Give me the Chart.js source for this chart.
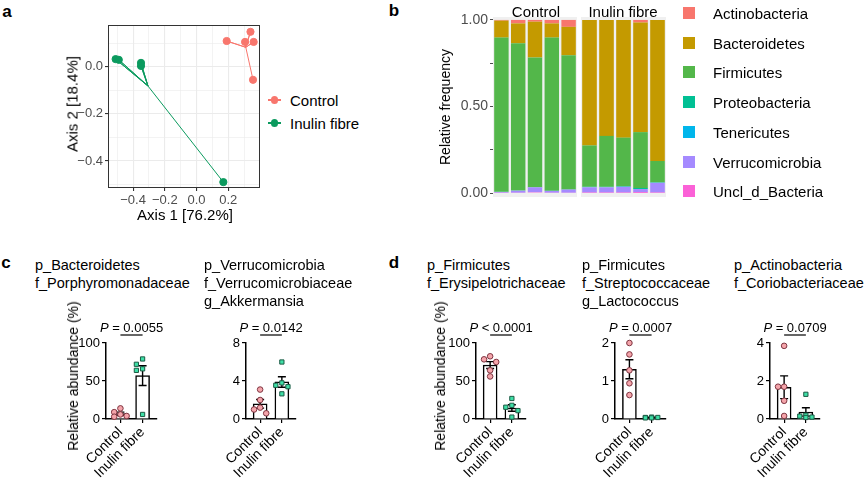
<!DOCTYPE html>
<html>
<head>
<meta charset="utf-8">
<script src="https://cdn.jsdelivr.net/npm/chart.js@4.4.1/dist/chart.umd.min.js"></script>
<style>
  body { margin:0; background:#fff; width:868px; height:485px; position:relative; overflow:hidden;
         font-family:"Liberation Sans", Arial, sans-serif; color:#000; }
  .abs { position:absolute; white-space:nowrap; line-height:1; }
  canvas { position:absolute; }
</style>
</head>
<body>
<script>
"use strict"
const FONT = '"Liberation Sans", Arial, sans-serif';
Chart.defaults.font.family = FONT;
Chart.defaults.animation = false;

// ---- panel a : PCoA coordinates
const pcoaCtrlX = [0.19, 0.306, 0.34, 0.36, 0.356];
const pcoaCtrlY = [0.11, 0.106, 0.149, 0.106, -0.055];
const pcoaInuX = [-0.51, -0.49, -0.35, -0.35, 0.169];
const pcoaInuY = [0.033, 0.03, 0.017, 0.004, -0.49];
const aXTicks = [-0.5, -0.4, -0.3, -0.2, -0.1, 0, 0.1, 0.2, 0.3];
const aYTicks = [0.1, 0, -0.1, -0.2, -0.3, -0.4, -0.5];
const aXLabeled = [-0.4, -0.2, 0, 0.2];
const aYLabeled = [0, -0.2, -0.4];

// ---- panel b : relative frequency per mouse (5 control, 5 inulin)
const ctrlSamples = ['C1', 'C2', 'C3', 'C4', 'C5'];
const inuSamples = ['I1', 'I2', 'I3', 'I4', 'I5'];
const phyla = ['Actinobacteria', 'Bacteroidetes', 'Firmicutes', 'Proteobacteria', 'Tenericutes', 'Verrucomicrobia', 'Uncl_d_Bacteria'];
const phylaColors = ['#F8766D', '#C49A00', '#53B74A', '#00C094', '#00B6EB', '#A58AFF', '#FB61D7'];
const actino  = [0.004, 0.02, 0.01, 0.02, 0.04,   0, 0, 0, 0.015, 0];
const bactero = [0.098, 0.115, 0.207, 0.082, 0.164,   0.725, 0.67, 0.68, 0.633, 0.815];
const firmic  = [0.891, 0.851, 0.749, 0.885, 0.775,   0.239, 0.294, 0.28, 0.323, 0.123];
const proteo  = [0.001, 0.001, 0.001, 0.001, 0.001,   0.003, 0.003, 0.004, 0.006, 0.003];
const teneri  = [0, 0, 0, 0, 0,   0, 0, 0, 0, 0];
const verruco = [0.004, 0.011, 0.028, 0.01, 0.018,   0.03, 0.03, 0.033, 0.018, 0.056];
const uncl    = [0.002, 0.002, 0.005, 0.002, 0.002,   0.003, 0.003, 0.003, 0.005, 0.003];
const bYTicks = [0, 0.25, 0.5, 0.75, 1];
const bYLabeled = [0, 0.5, 1];

// ---- panels c and d : relative abundance (%)
const groups = ['Control', 'Inulin fibre'];
const porphCtrl = [14, 9, 6, 4, 3];
const porphInu = [79, 72, 66, 64, 6];
const akkCtrl = [3.1, 2.0, 1.2, 1.0, 0.6];
const akkInu = [6.0, 3.8, 3.55, 3.4, 2.65];
const erysCtrl = [82.5, 78.5, 75, 64, 56];
const erysInu = [27, 18, 15.5, 11, 2.5];
const lactoCtrl = [2.0, 1.7, 1.28, 0.94, 0.63];
const lactoInu = [0.05, 0.04, 0.04, 0.03, 0.03];
const corioCtrl = [3.85, 1.7, 1.7, 0.96, 0.16];
const corioInu = [1.3, 0.2, 0.15, 0.1, 0.08];
const groupMeans = [[7, 57], [1.6, 3.9], [71, 14.5], [1.31, 0.04], [1.67, 0.37]];
const groupSems = [[2, 13], [0.45, 0.55], [4.5, 4.3], [0.25, 0.01], [0.6, 0.22]];
const yMaxes = [100, 8, 100, 2, 4];
const yTickSets = [[0, 50, 100], [0, 4, 8], [0, 50, 100], [0, 1, 2], [0, 2, 4]];
const pTexts = ['= 0.0055', '= 0.0142', '< 0.0001', '= 0.0007', '= 0.0709'];
const taxaTitles = [
  ['p_Bacteroidetes', 'f_Porphyromonadaceae'],
  ['p_Verrucomicrobia', 'f_Verrucomicrobiaceae', 'g_Akkermansia'],
  ['p_Firmicutes', 'f_Erysipelotrichaceae'],
  ['p_Firmicutes', 'f_Streptococcaceae', 'g_Lactococcus'],
  ['p_Actinobacteria', 'f_Coriobacteriaceae']
];

// ---------- helpers
function makeCanvas(left, top, w, h) {
  const cv = document.createElement('canvas');
  cv.width = w; cv.height = h;
  cv.style.left = left + 'px'; cv.style.top = top + 'px';
  cv.style.width = w + 'px'; cv.style.height = h + 'px';
  document.body.appendChild(cv);
  return cv;
}
function text(str, x, y, size, opt = {}) {
  const d = document.createElement('div');
  d.className = 'abs';
  d.textContent = str;
  d.style.left = x + 'px'; d.style.top = y + 'px';
  d.style.fontSize = size + 'px';
  if (opt.bold) d.style.fontWeight = 'bold';
  let tr = opt.left ? 'translate(0,-50%)' : 'translate(-50%,-50%)';
  if (opt.rot) tr += ' rotate(-90deg)';
  d.style.transform = tr;
  document.body.appendChild(d);
  return d;
}
function box(x, y, w, h, css) {
  const d = document.createElement('div');
  d.className = 'abs';
  d.style.left = x + 'px'; d.style.top = y + 'px';
  d.style.width = w + 'px'; d.style.height = h + 'px';
  Object.assign(d.style, css);
  document.body.appendChild(d);
}
const isIn = (v, arr) => arr.some(a => Math.abs(a - v) < 1e-9);
const mean = a => a.reduce((s, v) => s + v, 0) / a.length;

// panel letters
text('a', 7, 11, 17, {bold: true});
text('b', 394, 10, 17, {bold: true});
text('c', 6, 262, 17, {bold: true});
text('d', 394, 262, 17, {bold: true});

// ---------- panel a
const ctrlCol = '#F8766D', inuCol = '#0B9A5E';
// lines from the group centroid to every sample
function spider(xs, ys) {
  const cx = mean(xs), cy = mean(ys);
  const out = [];
  xs.forEach((x, i) => { out.push({x: cx, y: cy}, {x: x, y: ys[i]}); });
  return out;
}
const pts = (xs, ys) => xs.map((x, i) => ({x: x, y: ys[i]}));
const frame = {
  id: 'frame',
  afterDraw(chart) {
    const {ctx, chartArea: a} = chart;
    ctx.save();
    ctx.strokeStyle = '#333'; ctx.lineWidth = 1;
    ctx.strokeRect(a.left + 0.5, a.top + 0.5, a.right - a.left - 1, a.bottom - a.top - 1);
    ctx.restore();
  }
};
const fmtA = v => v.toFixed(1).replace('-', '\u2212');
new Chart(makeCanvas(60, 15, 205, 200), {
  type: 'scatter',
  data: {
    datasets: [
      {data: spider(pcoaCtrlX, pcoaCtrlY), showLine: true, borderColor: ctrlCol, borderWidth: 1, pointRadius: 0},
      {data: spider(pcoaInuX, pcoaInuY), showLine: true, borderColor: inuCol, borderWidth: 1, pointRadius: 0},
      {data: pts(pcoaCtrlX, pcoaCtrlY), backgroundColor: ctrlCol, borderColor: ctrlCol, pointRadius: 3.6},
      {data: pts(pcoaInuX, pcoaInuY), backgroundColor: inuCol, borderColor: inuCol, pointRadius: 3.6}
    ]
  },
  options: {
    responsive: false,
    layout: {padding: {top: 10, right: 3}},
    plugins: {legend: {display: false}, tooltip: {enabled: false}},
    scales: {
      x: {
        min: -0.558, max: 0.4,
        afterBuildTicks: s => { s.ticks = aXTicks.map(v => ({value: v})); },
        afterFit: s => { s.height = 27; },
        ticks: {autoSkip: false, maxRotation: 0, color: '#4d4d4d', font: {size: 13}, padding: 2,
                callback: v => isIn(v, aXLabeled) ? fmtA(v) : ''},
        grid: {color: '#ebebeb', lineWidth: c => isIn(c.tick.value, aXLabeled) ? 1.1 : 0.6,
               tickColor: c => isIn(c.tick.value, aXLabeled) ? '#333' : 'rgba(0,0,0,0)', tickLength: 3},
        border: {display: false}
      },
      y: {
        min: -0.515, max: 0.178,
        afterBuildTicks: s => { s.ticks = aYTicks.map(v => ({value: v})); },
        afterFit: s => { s.width = 48; },
        ticks: {autoSkip: false, color: '#4d4d4d', font: {size: 13}, padding: 2,
                callback: v => isIn(v, aYLabeled) ? fmtA(v) : ''},
        grid: {color: '#ebebeb', lineWidth: c => isIn(c.tick.value, aYLabeled) ? 1.1 : 0.6,
               tickColor: c => isIn(c.tick.value, aYLabeled) ? '#333' : 'rgba(0,0,0,0)', tickLength: 3},
        border: {display: false}
      }
    }
  },
  plugins: [frame]
});
text('Axis 1 [76.2%]', 185, 214, 15);
text('Axis 2 [18.4%]', 72, 104, 15, {rot: true});
// legend a
[[groups[0], ctrlCol, 100], [groups[1], inuCol, 123]].forEach(([name, col, y]) => {
  box(268, y - 0.6, 13, 1.2, {background: col});
  box(271, y - 3.6, 7.2, 7.2, {background: col, borderRadius: '50%'});
  text(name, 290, y, 15, {left: true});
});

// ---------- panel b
const stackOrder = [uncl, verruco, teneri, proteo, firmic, bactero, actino];
const stackColors = [phylaColors[6], phylaColors[5], phylaColors[4], phylaColors[3], phylaColors[2], phylaColors[1], phylaColors[0]];
const facetBg = {
  id: 'facetBg',
  beforeDatasetsDraw(chart) {
    const {ctx, chartArea: a} = chart;
    ctx.save();
    ctx.fillStyle = '#f0f0f0';
    ctx.fillRect(a.left, a.top, a.right - a.left, a.bottom - a.top);
    ctx.restore();
  }
};
function stackChart(cv, labels, from, showY, pad) {
  return new Chart(cv, {
    type: 'bar',
    data: {
      labels: labels,
      datasets: stackOrder.map((arr, k) => ({
        data: arr.slice(from, from + 5),
        backgroundColor: stackColors[k],
        borderWidth: 0,
        barPercentage: 0.86,
        categoryPercentage: 1
      }))
    },
    options: {
      responsive: false,
      layout: {padding: pad},
      plugins: {legend: {display: false}, tooltip: {enabled: false}},
      scales: {
        x: {stacked: true, display: false},
        y: {
          stacked: true, display: showY, min: -0.023, max: 1.017,
          afterBuildTicks: s => { s.ticks = bYTicks.map(v => ({value: v})); },
          afterFit: s => { s.width = showY ? 56 : 0; },
          ticks: {autoSkip: false, color: '#4d4d4d', font: {size: 14}, padding: 2,
                  callback: v => isIn(v, bYLabeled) ? v.toFixed(2) : ''},
          grid: {drawOnChartArea: false, tickLength: 3, tickColor: '#4d4d4d'},
          border: {display: false}
        }
      }
    },
    plugins: [facetBg]
  });
}
stackChart(makeCanvas(437, 0, 143, 210), ctrlSamples, 0, true, {top: 17, right: 3, bottom: 13});
stackChart(makeCanvas(578, 0, 92, 210), inuSamples, 5, false, {top: 17, left: 3, right: 4, bottom: 13});
text(groups[0], 536, 11, 15);
text(groups[1], 623, 11, 15);
text('Relative frequency', 445, 107, 14, {rot: true});
phyla.forEach((name, i) => {
  const y = 13 + i * 29.7;
  box(683, y - 6, 12, 12, {background: phylaColors[i]});
  text(name, 713, y, 15, {left: true});
});

// ---------- panels c and d
const UNIT = 22;
const pinkFill = '#F4A4AA', pinkEdge = '#7E3440';
const mintFill = '#3EDFA6', mintEdge = '#1C5A44';

// spread close values sideways, like GraphPad scatter dot plots
function swarm(vals, ymax) {
  const pxY = 76 / ymax;
  const cands = [0, -0.28, 0.28];
  const placed = [];
  return vals.map(v => {
    const gap = c => Math.min(Infinity, ...placed.map(p => Math.hypot((p.o - c) * UNIT, (p.v - v) * pxY)));
    let best = cands[0], bestGap = -1;
    for (const c of cands) {
      const g = gap(c);
      if (g >= 6) { best = c; break; }
      if (g > bestGap) { best = c; bestGap = g; }
    }
    placed.push({o: best, v: v});
    return best;
  });
}
function errPlugin(means, sems) {
  return {
    id: 'err',
    afterDatasetDraw(chart, args) {
      if (args.index !== 0) return;
      const {ctx, scales: {x, y}} = chart;
      ctx.save();
      ctx.strokeStyle = '#000'; ctx.lineWidth = 1.4;
      means.forEach((m, i) => {
        const px = x.getPixelForValue(i);
        const yt = y.getPixelForValue(m + sems[i]), yb = y.getPixelForValue(Math.max(0, m - sems[i]));
        ctx.beginPath();
        ctx.moveTo(px, yt); ctx.lineTo(px, yb);
        ctx.moveTo(px - 4, yt); ctx.lineTo(px + 4, yt);
        ctx.moveTo(px - 4, yb); ctx.lineTo(px + 4, yb);
        ctx.stroke();
      });
      ctx.restore();
    }
  };
}
function pPlugin(pText) {
  return {
    id: 'pval',
    afterDraw(chart) {
      const {ctx, scales: {x}, chartArea} = chart;
      const x0 = x.getPixelForValue(0), x1 = x.getPixelForValue(1);
      const yl = chartArea.top - 8;
      ctx.save();
      ctx.strokeStyle = '#000'; ctx.lineWidth = 1.2;
      ctx.beginPath(); ctx.moveTo(x0, yl); ctx.lineTo(x1, yl); ctx.stroke();
      ctx.fillStyle = '#000'; ctx.textBaseline = 'alphabetic';
      ctx.font = 'italic 13px ' + FONT;
      const wP = ctx.measureText('P').width;
      ctx.font = '13px ' + FONT;
      const rest = ' ' + pText;
      const wR = ctx.measureText(rest).width;
      const sx = (x0 + x1) / 2 - (wP + wR) / 2;
      ctx.font = 'italic 13px ' + FONT;
      ctx.fillText('P', sx, yl - 3);
      ctx.font = '13px ' + FONT;
      ctx.fillText(rest, sx + wP, yl - 3);
      ctx.restore();
    }
  };
}
function dotChart(k, cx, ctrl, inu) {
  const axisX = cx - 0.65 * UNIT, endX = cx + 1.65 * UNIT;
  const left = Math.round(axisX - 40), top = 315;
  const w = Math.round(endX - left + 12), h = 170;
  const ymax = yMaxes[k];
  const offC = swarm(ctrl, ymax), offI = swarm(inu, ymax);
  new Chart(makeCanvas(left, top, w, h), {
    type: 'scatter',
    data: {
      datasets: [
        {type: 'bar', data: [{x: 0, y: groupMeans[k][0]}, {x: 1, y: groupMeans[k][1]}],
         backgroundColor: '#fff', borderColor: '#000', borderWidth: 1.5, barThickness: 14, order: 3},
        {data: ctrl.map((v, i) => ({x: offC[i], y: v})), pointStyle: 'circle', pointRadius: 2.8,
         backgroundColor: pinkFill, borderColor: pinkEdge, borderWidth: 1, clip: false, order: 1},
        {data: inu.map((v, i) => ({x: 1 + offI[i], y: v})), pointStyle: 'rect', pointRadius: 3,
         backgroundColor: mintFill, borderColor: mintEdge, borderWidth: 1, clip: false, order: 1}
      ]
    },
    options: {
      responsive: false,
      layout: {padding: {top: 28, right: 12}},
      plugins: {legend: {display: false}, tooltip: {enabled: false}},
      scales: {
        x: {
          type: 'linear', min: -0.65, max: 1.65, offset: false,
          afterBuildTicks: s => { s.ticks = [{value: 0}, {value: 1}]; },
          afterFit: s => { s.height = 66; },
          ticks: {autoSkip: false, minRotation: 45, maxRotation: 45, color: '#000', font: {size: 14}, padding: 1,
                  callback: (v, i) => groups[i]},
          grid: {drawOnChartArea: false, offset: false, tickLength: 4, tickColor: '#000', lineWidth: 1.2},
          border: {color: '#000', width: 1.5}
        },
        y: {
          min: 0, max: ymax,
          afterBuildTicks: s => { s.ticks = yTickSets[k].map(v => ({value: v})); },
          afterFit: s => { s.width = 40; },
          ticks: {autoSkip: false, color: '#000', font: {size: 13}, padding: 2},
          grid: {drawOnChartArea: false, tickLength: 4, tickColor: '#000', lineWidth: 1.2},
          border: {color: '#000', width: 1.5}
        }
      }
    },
    plugins: [errPlugin(groupMeans[k], groupSems[k]), pPlugin(pTexts[k])]
  });
}
const barCenters = [120.5, 260, 490, 629.5, 784];
const titleLefts = [35, 204, 427, 582, 734];
const ctrlSets = [porphCtrl, akkCtrl, erysCtrl, lactoCtrl, corioCtrl];
const inuSets = [porphInu, akkInu, erysInu, lactoInu, corioInu];
for (let k = 0; k < 5; k++) {
  dotChart(k, barCenters[k], ctrlSets[k], inuSets[k]);
  taxaTitles[k].forEach((t, j) => text(t, titleLefts[k], 265 + j * 18, 14.5, {left: true}));
}
text('Relative abundance (%)', 73, 376, 14, {rot: true});
text('Relative abundance (%)', 440, 376, 14, {rot: true});
</script>
</body>
</html>
